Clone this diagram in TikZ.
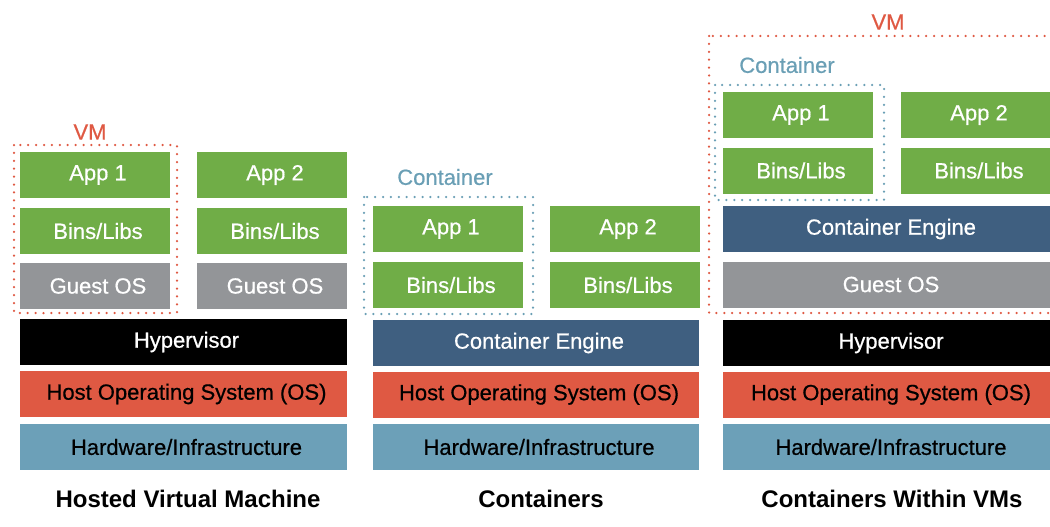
\documentclass[tikz,border=0pt]{standalone}
\usepackage{fontspec}
\setmainfont{Liberation Sans}
\newfontfamily\medfont[FakeBold=0.6]{Liberation Sans}
\definecolor{cgreen}{RGB}{112,173,71}
\definecolor{cgray}{RGB}{147,149,152}
\definecolor{cred}{RGB}{223,89,67}
\definecolor{cblue}{RGB}{108,160,184}
\definecolor{cnavy}{RGB}{63,95,128}
\definecolor{clabel}{RGB}{106,159,181}
\tikzset{
  layer/.style={rectangle, inner sep=0pt, minimum height=46pt, font=\fontsize{22}{25}\medfont,
    execute at begin node={\hspace*{6pt}}},
  greenbox/.style={layer, fill=cgreen, text=white, minimum width=150pt},
  guestbox/.style={layer, fill=cgray, text=white},
  hyperbox/.style={layer, fill=black, text=white},
  enginebox/.style={layer, fill=cnavy, text=white},
  hostbox/.style={layer, fill=cred, text=black},
  hwbox/.style={layer, fill=cblue, text=black},
  title/.style={font=\fontsize{24}{27}\selectfont\bfseries, text=black},
  vmlabel/.style={font=\fontsize{22}{25}\medfont, text=cred},
  ctlabel/.style={font=\fontsize{22}{25}\medfont, text=clabel},
  vmframe/.style={draw=cred, line width=2.5pt, dash pattern=on 0pt off 7.9pt, line cap=round},
  ctframe/.style={draw=clabel, line width=2.5pt, dash pattern=on 0pt off 7.9pt, line cap=round},
}
\begin{document}
\begin{tikzpicture}[x=1pt,y=-1pt]
\path[use as bounding box] (0,0) rectangle (1050,527);
\clip (0,0) rectangle (1050,527);
% ---------- Hosted Virtual Machine ----------
\node[greenbox] (l-app1) at (95,175) {App 1};
\node[greenbox] (l-bins1) at (95,231) {Bins/Libs};
\node[guestbox, minimum width=150pt] (l-guest1) at (95,286) {Guest OS};
\node[greenbox] (l-app2) at (272,175) {App 2};
\node[greenbox] (l-bins2) at (272,231) {Bins/Libs};
\node[guestbox, minimum width=150pt] (l-guest2) at (272,286) {Guest OS};
\node[hyperbox, minimum width=327pt] (l-hyper) at (183.5,342) {Hypervisor};
\node[hostbox, minimum width=327pt] (l-host) at (183.5,394) {Host Operating System (OS)};
\node[hwbox, minimum width=327pt] (l-hw) at (183.5,447) {Hardware/Infrastructure};
\draw[vmframe] (14,145) rectangle (177,313);
\node[vmlabel] (l-vm) at (90,132) {VM};
\node[title] (l-title) at (188,499) {Hosted Virtual Machine};
% ---------- Containers ----------
\node[greenbox] (m-app1) at (448,229) {App 1};
\node[greenbox] (m-bins1) at (448,285) {Bins/Libs};
\node[greenbox] (m-app2) at (625,229) {App 2};
\node[greenbox] (m-bins2) at (625,285) {Bins/Libs};
\node[enginebox, minimum width=326pt] (m-engine) at (536,343) {Container Engine};
\node[hostbox, minimum width=326pt] (m-host) at (536,394.5) {Host Operating System (OS)};
\node[hwbox, minimum width=326pt] (m-hw) at (536,447) {Hardware/Infrastructure};
\draw[ctframe] (364,197) rectangle (533,314);
\node[ctlabel] (m-ct) at (445,177) {Container};
\node[title] (m-title) at (541,499) {Containers};
% ---------- Containers Within VMs ----------
\node[greenbox] (r-app1) at (798,115) {App 1};
\node[greenbox] (r-bins1) at (798,170.5) {Bins/Libs};
\node[greenbox] (r-app2) at (976,115) {App 2};
\node[greenbox] (r-bins2) at (976,170.5) {Bins/Libs};
\node[enginebox, minimum width=330pt] (r-engine) at (888,229) {Container Engine};
\node[guestbox, minimum width=330pt] (r-guest) at (888,284.5) {Guest OS};
\node[hyperbox, minimum width=330pt] (r-hyper) at (888,343) {Hypervisor};
\node[hostbox, minimum width=330pt] (r-host) at (888,394.5) {Host Operating System (OS)};
\node[hwbox, minimum width=330pt] (r-hw) at (888,447) {Hardware/Infrastructure};
\draw[vmframe] (709,36) rectangle (1062,313);
\draw[ctframe] (715,85) rectangle (884,200);
\node[vmlabel] (r-vm) at (888,22) {VM};
\node[ctlabel] (r-ct) at (787,65) {Container};
\node[title] (r-title) at (892,499) {Containers Within VMs};
\end{tikzpicture}
\end{document}
